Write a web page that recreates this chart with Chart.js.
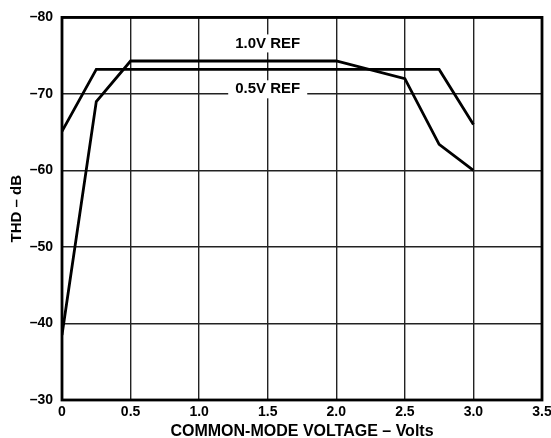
<!DOCTYPE html>
<html>
<head>
<meta charset="utf-8">
<script src="https://cdn.jsdelivr.net/npm/chart.js@4/dist/chart.umd.min.js"></script>
<style>
html,body{margin:0;padding:0;background:#fff;}
#wrap{width:551px;height:438px;position:relative;}
</style>
</head>
<body>
<div id="wrap"><canvas id="c" width="551" height="438"></canvas></div>
<script>
// Data
const ref10X = [0, 0.25, 0.5, 2.0, 2.5, 2.75, 3.0];
const ref10Y = [-38.5, -69, -74.3, -74.3, -72, -63.4, -60];
const ref05X = [0, 0.25, 2.75, 3.0];
const ref05Y = [-65.1, -73.2, -73.2, -66];
const seriesNames = ['1.0V REF', '0.5V REF'];
const labelX = [1.5, 1.5];
const labelY = [-76.6, -70.6];
const xTicks = [0, 0.5, 1.0, 1.5, 2.0, 2.5, 3.0, 3.5];
const yTicks = [-80, -70, -60, -50, -40, -30];
const xTitle = 'COMMON-MODE VOLTAGE – Volts';
const yTitle = 'THD – dB';

const FONT = '"Liberation Sans", Arial, Helvetica, sans-serif';

const toPts = (xs, ys) => xs.map((x, i) => ({x: x, y: ys[i]}));

const framePlugin = {
  id: 'frame',
  afterDatasetsDraw(chart) {
    const {ctx, chartArea: a, scales} = chart;
    ctx.save();
    ctx.font = 'bold 15px ' + FONT;
    ctx.textAlign = 'center';
    ctx.textBaseline = 'middle';
    seriesNames.forEach((name, i) => {
      const px = scales.x.getPixelForValue(labelX[i]);
      const py = scales.y.getPixelForValue(labelY[i]);
      const w = ctx.measureText(name).width;
      ctx.fillStyle = '#fff';
      ctx.fillRect(px - w / 2 - 7, py - 9, w + 14, 18);
      ctx.fillStyle = '#000';
      ctx.fillText(name, px, py);
    });
    ctx.strokeStyle = '#000';
    ctx.lineWidth = 2.8;
    ctx.strokeRect(a.left, a.top, a.right - a.left, a.bottom - a.top);
    ctx.restore();
  }
};

new Chart(document.getElementById('c'), {
  type: 'line',
  data: {
    datasets: [
      {label: seriesNames[0], data: toPts(ref10X, ref10Y), borderColor: '#000', borderWidth: 2.8, pointRadius: 0, tension: 0, fill: false},
      {label: seriesNames[1], data: toPts(ref05X, ref05Y), borderColor: '#000', borderWidth: 2.8, pointRadius: 0, tension: 0, fill: false}
    ]
  },
  options: {
    responsive: false,
    animation: false,
    devicePixelRatio: 1,
    layout: {padding: {left: 0, right: 9, top: 16, bottom: 0}},
    plugins: {legend: {display: false}, tooltip: {enabled: false}},
    scales: {
      x: {
        type: 'linear', min: 0, max: 3.5,
        afterBuildTicks(s) { s.ticks = xTicks.map(v => ({value: v})); },
        afterFit(s) { s.height = 38; s.paddingRight = 0; s.paddingLeft = 0; },
        ticks: {
          color: '#000', font: {family: FONT, size: 14, weight: 'bold'}, padding: 4,
          maxRotation: 0,
          callback: v => (v === 0 ? '0' : Number(v).toFixed(1))
        },
        grid: {color: '#222', lineWidth: 1.4, drawTicks: false},
        border: {display: false},
        title: {display: true, text: xTitle, color: '#000', font: {family: FONT, size: 16, weight: 'bold', lineHeight: 0.8}, padding: {top: 0, bottom: 0}}
      },
      y: {
        type: 'linear', min: -80, max: -30, reverse: true,
        afterBuildTicks(s) { s.ticks = yTicks.map(v => ({value: v})); },
        afterFit(s) { s.width = 62; },
        ticks: {
          color: '#000', font: {family: FONT, size: 14, weight: 'bold'}, padding: 9,
          callback: v => '–' + Math.abs(v)
        },
        grid: {color: '#222', lineWidth: 1.4, drawTicks: false},
        border: {display: false},
        title: {display: true, text: yTitle, color: '#000', font: {family: FONT, size: 15, weight: 'bold', lineHeight: 1.2}, padding: {top: 8, bottom: 0}}
      }
    }
  },
  plugins: [framePlugin]
});
</script>
</body>
</html>
